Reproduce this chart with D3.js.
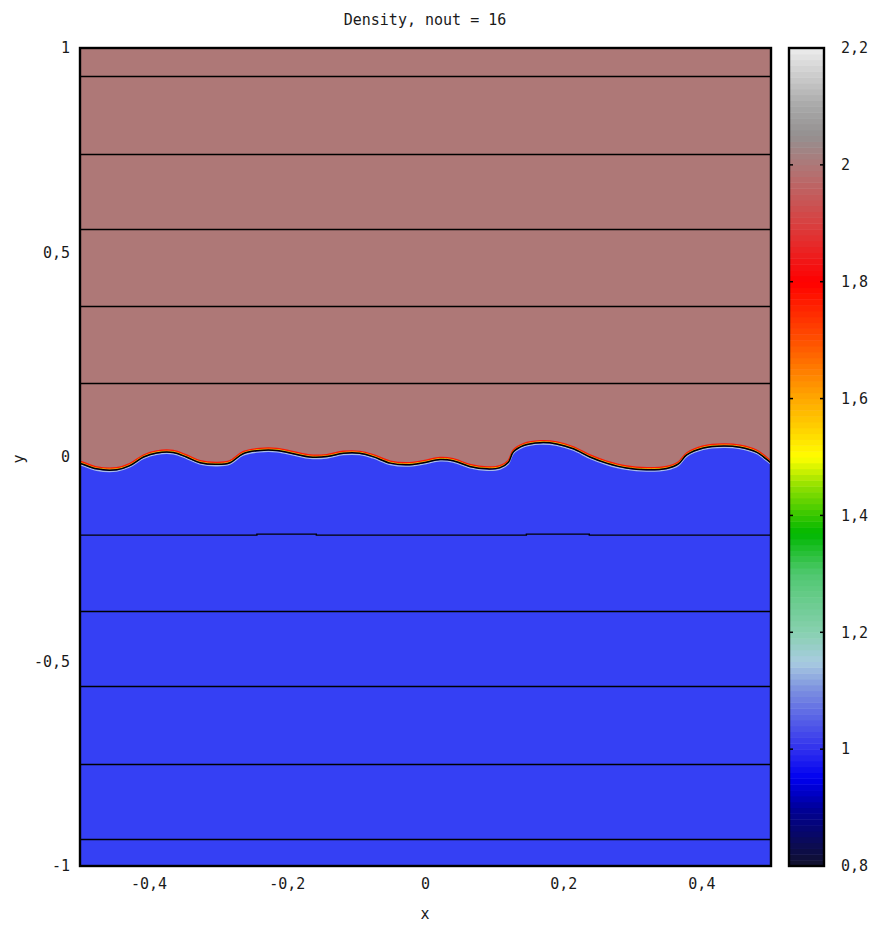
<!DOCTYPE html>
<html>
<head>
<meta charset="utf-8">
<script src="https://cdn.jsdelivr.net/npm/d3@7"></script>
<style>
  body { margin: 0; background: #fff; }
  text { font-family: "DejaVu Sans Mono", monospace; font-size: 15px; fill: #1a1a1a; }
</style>
</head>
<body>
<svg id="chart" width="876" height="925"></svg>
<script>
// interface between heavy (rho=2) and light (rho=1) fluid
var interfaceX = [-0.5, -0.497, -0.476, -0.447, -0.428, -0.408, -0.389, -0.365, -0.346, -0.326, -0.302,
  -0.283, -0.264, -0.240, -0.215, -0.191, -0.167, -0.143, -0.119, -0.095, -0.076, -0.051,
  -0.027, -0.003, 0.021, 0.040, 0.064, 0.089, 0.108, 0.120, 0.127, 0.142, 0.166, 0.190,
  0.214, 0.238, 0.262, 0.291, 0.320, 0.349, 0.366, 0.378, 0.402, 0.431, 0.455, 0.479, 0.499, 0.5];
var interfaceY = [-0.016, -0.017, -0.029, -0.031, -0.021, 0.000, 0.010, 0.011, 0.000, -0.014, -0.018,
  -0.014, 0.008, 0.016, 0.016, 0.008, 0.000, 0.001, 0.009, 0.009, 0.001, -0.015,
  -0.019, -0.014, -0.006, -0.009, -0.023, -0.029, -0.026, -0.013, 0.012, 0.028, 0.035, 0.032,
  0.020, 0.000, -0.015, -0.027, -0.031, -0.028, -0.017, 0.005, 0.022, 0.027, 0.024, 0.012, -0.013, -0.014];

// passive tracer lines
var tracerLevels = [0.931, 0.742, 0.557, 0.368, 0.182, -0.376, -0.561, -0.750, -0.934];
var bumpedLineX = [-0.5, -0.244, -0.244, -0.158, -0.158, 0.146, 0.146, 0.237, 0.237, 0.5];
var bumpedLineY = [-0.191, -0.191, -0.1885, -0.1885, -0.191, -0.191, -0.1885, -0.1885, -0.191, -0.191];

var xTicks = [-0.4, -0.2, 0, 0.2, 0.4];
var yTicks = [-1, -0.5, 0, 0.5, 1];
var cbTicks = [0.8, 1, 1.2, 1.4, 1.6, 1.8, 2, 2.2];

// palette stops (density -> colour)
var paletteValues = [0.8, 0.9, 0.95, 1.0, 1.1, 1.15, 1.2, 1.3, 1.37, 1.45, 1.5, 1.55, 1.6, 1.7, 1.8, 1.9, 2.0, 2.05, 2.1, 2.2];
var paletteColors = ['#12122a', '#00009a', '#0000f0', '#3030ee', '#7b8ee0', '#a8cce0', '#88d0b0', '#50c870',
  '#00b800', '#90e000', '#ffff00', '#ffd000', '#ffa800', '#ff5000', '#ff0000', '#d84040',
  '#ae7878', '#949090', '#a8a8a8', '#ececec'];

var heavyColor = '#ae7877';
var lightColor = '#3540f4';

var svg = d3.select('#chart');
var plotL = 80, plotR = 771, plotT = 48, plotB = 866;

var x = d3.scaleLinear().domain([-0.5, 0.5]).range([plotL, plotR]);
var y = d3.scaleLinear().domain([-1, 1]).range([plotB, plotT]);

var fmt = function(d) { return String(d).replace('.', ','); };

// plot background = heavy fluid
svg.append('rect')
    .attr('x', plotL).attr('y', plotT)
    .attr('width', plotR - plotL).attr('height', plotB - plotT)
    .attr('fill', heavyColor);

var pts = interfaceX.map(function(d, i) { return [d, interfaceY[i]]; });

var area = d3.area()
    .x(function(d) { return x(d[0]); })
    .y0(plotB)
    .y1(function(d) { return y(d[1]); })
    .curve(d3.curveCatmullRom);

svg.append('path').datum(pts).attr('d', area).attr('fill', lightColor);

var line = d3.line()
    .x(function(d) { return x(d[0]); })
    .y(function(d) { return y(d[1]); })
    .curve(d3.curveCatmullRom);

// thin transition band around the contour
var band = [[1.4, '#a8bce8', 1.3], [-1.8, '#ff1a00', 1.8], [-0.9, '#f0c000', 1.0], [0, '#000', 1.5]];
band.forEach(function(b) {
  svg.append('path').datum(pts)
      .attr('d', line)
      .attr('transform', 'translate(0,' + b[0] + ')')
      .attr('fill', 'none')
      .attr('stroke', b[1])
      .attr('stroke-width', b[2]);
});

// tracer lines
svg.selectAll('.tracer').data(tracerLevels).enter().append('line')
    .attr('x1', plotL).attr('x2', plotR)
    .attr('y1', function(d) { return Math.round(y(d)) + 0.5; })
    .attr('y2', function(d) { return Math.round(y(d)) + 0.5; })
    .attr('stroke', '#000').attr('stroke-width', 1.4);

svg.append('path')
    .datum(bumpedLineX.map(function(d, i) { return [d, bumpedLineY[i]]; }))
    .attr('d', d3.line().x(function(d) { return x(d[0]); }).y(function(d) { return y(d[1]); }))
    .attr('fill', 'none').attr('stroke', '#000').attr('stroke-width', 1.4);

// frame
svg.append('rect')
    .attr('x', plotL).attr('y', plotT)
    .attr('width', plotR - plotL).attr('height', plotB - plotT)
    .attr('fill', 'none').attr('stroke', '#000').attr('stroke-width', 2.4);

// axis labels
svg.selectAll('.xt').data(xTicks).enter().append('text')
    .attr('x', function(d) { return x(d); })
    .attr('y', 884).attr('dy', '0.35em')
    .attr('text-anchor', 'middle')
    .text(fmt);

svg.selectAll('.yt').data(yTicks).enter().append('text')
    .attr('x', 70).attr('y', function(d) { return y(d); })
    .attr('dy', '0.35em')
    .attr('text-anchor', 'end')
    .text(fmt);

svg.append('text').attr('x', 425).attr('y', 914).attr('dy', '0.35em')
    .attr('text-anchor', 'middle').text('x');
svg.append('text').attr('transform', 'translate(19,459) rotate(-90)')
    .attr('dy', '0.35em').attr('text-anchor', 'middle').text('y');
svg.append('text').attr('x', 425).attr('y', 20).attr('dy', '0.35em')
    .attr('text-anchor', 'middle').text('Density, nout = 16');

// colour box
var cbL = 789, cbR = 824;
var cy = d3.scaleLinear().domain([0.8, 2.2]).range([plotB, plotT]);
var palette = d3.scaleLinear().domain(paletteValues).range(paletteColors);
var steps = d3.range(0, 140).map(function(i) { return 0.8 + i * 0.01; });

svg.selectAll('.cb').data(steps).enter().append('rect')
    .attr('x', cbL).attr('width', cbR - cbL)
    .attr('y', function(d) { return cy(d + 0.01); })
    .attr('height', function(d) { return cy(d) - cy(d + 0.01) + 0.5; })
    .attr('fill', function(d) { return palette(d + 0.005); });

svg.append('rect')
    .attr('x', cbL).attr('y', plotT)
    .attr('width', cbR - cbL).attr('height', plotB - plotT)
    .attr('fill', 'none').attr('stroke', '#000').attr('stroke-width', 2.4);

var inner = cbTicks.filter(function(d) { return d > 0.8 && d < 2.2; });
svg.selectAll('.cbl').data(inner).enter().append('line')
    .attr('x1', cbL).attr('x2', cbL + 4)
    .attr('y1', function(d) { return cy(d); }).attr('y2', function(d) { return cy(d); })
    .attr('stroke', '#000').attr('stroke-width', 1.5);
svg.selectAll('.cbr').data(inner).enter().append('line')
    .attr('x1', cbR - 4).attr('x2', cbR)
    .attr('y1', function(d) { return cy(d); }).attr('y2', function(d) { return cy(d); })
    .attr('stroke', '#000').attr('stroke-width', 1.5);

svg.selectAll('.cbt').data(cbTicks).enter().append('text')
    .attr('x', 841).attr('y', function(d) { return cy(d); })
    .attr('dy', '0.35em')
    .text(fmt);
</script>
</body>
</html>
